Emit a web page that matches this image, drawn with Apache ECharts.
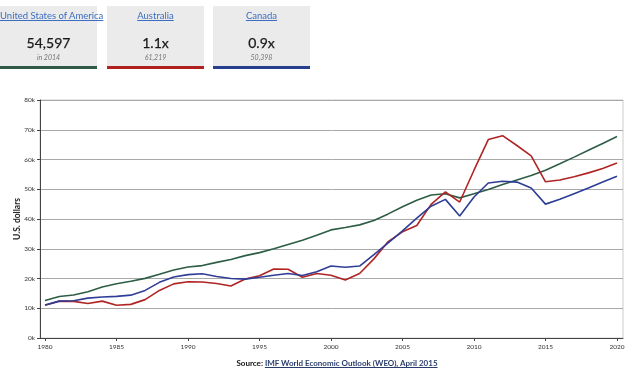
<!DOCTYPE html>
<html><head><meta charset="utf-8">
<script src="https://cdn.jsdelivr.net/npm/echarts@6/dist/echarts.min.js"></script>
<style>
html,body{margin:0;padding:0;background:#fff;width:640px;height:374px;overflow:hidden;font-family:Lato,"Open Sans",sans-serif;}
#chart{position:absolute;left:0;top:0;width:640px;height:374px;}
.card{position:absolute;top:6px;width:97px;height:60px;background:#ebebeb;text-align:center;}
.card .t{position:absolute;left:0;right:0;top:4px;font-size:9.5px;color:#3b6dc0;text-decoration:underline;white-space:nowrap;}
.card .b{position:absolute;left:0;right:0;top:28px;font-size:14px;color:#1a1a1a;-webkit-text-stroke:0.25px #1a1a1a;}
.card .s{position:absolute;left:0;right:0;top:47px;font-size:7px;color:#777;font-style:italic;}
.card .bar{position:absolute;left:0;right:0;bottom:-3px;height:3px;}
#src{position:absolute;left:0;width:674px;top:358px;text-align:center;font-size:8px;font-weight:bold;color:#111;}
#src span{color:#2a3e6e;text-decoration:underline;}
</style></head>
<body>
<div id="chart"></div>
<div class="card" style="left:0"><div class="t">United States of America</div><div class="b">54,597</div><div class="s">in 2014</div><div class="bar" style="background:#2f5a45"></div></div>
<div class="card" style="left:107px"><div class="t">Australia</div><div class="b">1.1x</div><div class="s">61,219</div><div class="bar" style="background:#b21f1f"></div></div>
<div class="card" style="left:213px"><div class="t">Canada</div><div class="b">0.9x</div><div class="s">50,398</div><div class="bar" style="background:#253f8c"></div></div>
<div id="src">Source: <span>IMF World Economic Outlook (WEO), April 2015</span></div>
<script>
const years = [];
for (let y = 1980; y <= 2020; y++) years.push(y);
const xTicks = [1980,1985,1990,1995,2000,2005,2010,2015,2020];
const usa = [12575,13976,14434,15544,17121,18237,19071,20039,21417,22857,23889,24342,25419,26387,27695,28691,29968,31459,32854,34514,36335,37133,38023,39496,41713,44115,46299,48050,48498,47100,48467,49883,51603,53107,54597,56421,58600,60800,63100,65400,67700];
const australia = [11000,12400,12300,11600,12400,11000,11300,12900,16000,18200,18900,18800,18300,17500,19800,20900,23200,23100,20400,21700,21100,19500,21700,26600,32400,35700,37800,44900,49100,45700,56400,66700,68000,64700,61219,52500,53100,54200,55500,57000,58800];
const canada = [11100,12400,12500,13400,13800,14000,14400,16000,18700,20500,21300,21600,20700,20000,19800,20400,21100,21700,21000,22300,24200,23800,24200,28000,32000,36000,40300,44300,46600,41000,47400,52100,52700,52400,50398,45000,46600,48500,50400,52400,54400];
const seriesNames = ['United States of America','Australia','Canada'];
const colors = ['#2d5e45','#b02424','#2e3d96'];
const seriesData = [usa, australia, canada];

const chart = echarts.init(document.getElementById('chart'));
chart.setOption({
  animation:false,
  grid:{left:40,right:17,top:100,bottom:36,show:true,borderColor:'#ccc',borderWidth:1},
  xAxis:{type:'value',min:1979.65,max:2020.42,
    axisLine:{lineStyle:{color:'#444',width:1}},
    axisTick:{show:true,length:3,customValues:xTicks,lineStyle:{color:'#444'}},
    axisLabel:{customValues:xTicks,fontSize:6.5,color:'#333',margin:5,fontFamily:'Lato',formatter:v=>String(Math.round(v))},
    splitLine:{show:false}},
  yAxis:{type:'value',min:0,max:80000,interval:10000,
    name:'U.S. dollars',nameLocation:'middle',nameGap:18,nameRotate:90,nameMoveOverlap:false,
    nameTextStyle:{fontSize:8.5,fontWeight:'bold',color:'#222',fontFamily:'Lato'},
    axisLine:{show:true,lineStyle:{color:'#444',width:1}},
    axisTick:{show:true,length:3,lineStyle:{color:'#444'}},
    axisLabel:{fontSize:6.5,color:'#333',margin:5,fontFamily:'Lato',formatter:v=>(v/1000)+'k'},
    splitLine:{lineStyle:{color:'#a8a8a8',width:1}}},
  series: seriesData.map((d,i)=>({
    name:seriesNames[i],type:'line',showSymbol:false,
    data:years.map((y,j)=>[y,d[j]]),
    lineStyle:{color:colors[i],width:1.6},itemStyle:{color:colors[i]}
  }))
});
</script>
</body></html>
